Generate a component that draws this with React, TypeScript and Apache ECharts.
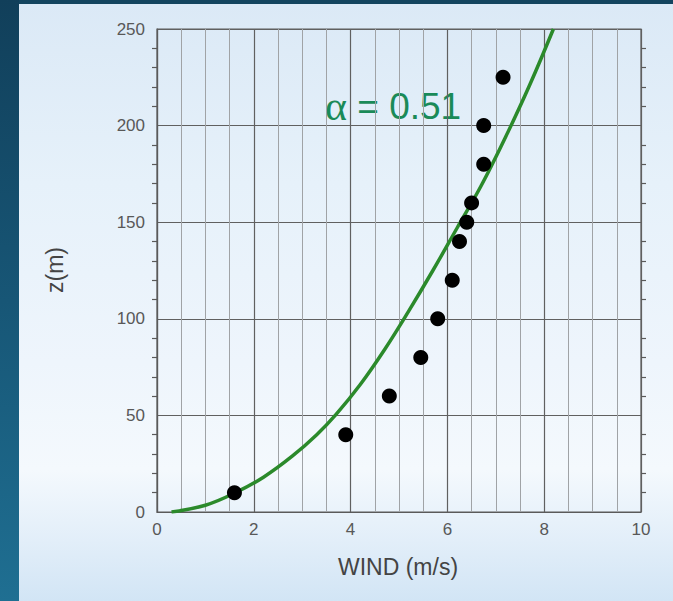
import React, { useEffect, useRef } from "react";
import * as echarts from "echarts";

// Observed wind profile (dots)
const windObs = [1.6, 3.9, 4.8, 5.45, 5.8, 6.1, 6.25, 6.4, 6.5, 6.75, 6.75, 7.15];
const heightObs = [10, 40, 60, 80, 100, 120, 140, 150, 160, 180, 200, 225];

// Fitted power-law curve (alpha = 0.51)
const windFit = [0.3, 1.0, 1.62, 2.2, 2.8, 3.3, 3.7, 4.2, 4.7, 5.2, 5.7, 6.2, 6.7, 7.2, 7.7, 8.19];
const heightFit = [0, 3.5, 10, 18, 29, 40, 50.5, 66, 84, 104, 125, 147, 169, 194, 221, 250];

const xTicks = { min: 0, max: 10, interval: 2 };
const yTicks = { min: 0, max: 250, interval: 50 };

const xName = "WIND (m/s)";
const yName = "z(m)";
const fitLabel = " = 0.51";

export default function App() {
  const ref = useRef<HTMLDivElement>(null);

  useEffect(() => {
    if (!ref.current) return;
    const chart = echarts.init(ref.current, null, { renderer: "svg" });
    const labelFont = "'Liberation Sans', Arial, Helvetica, sans-serif";
    const option: any = {
      animation: false,
      backgroundColor: "transparent",
      grid: {
        left: 157,
        top: 29,
        width: 484,
        height: 483,
        show: true,
        borderColor: "#5a5a5a",
        borderWidth: 1.2,
        backgroundColor: "transparent",
      },
      xAxis: [
        {
          type: "value",
          min: xTicks.min,
          max: xTicks.max,
          interval: xTicks.interval,
          axisLine: { show: true, lineStyle: { color: "#5a5a5a", width: 1.2 } },
          axisTick: { show: false },
          axisLabel: {
            color: "#585858",
            fontSize: 17,
            fontFamily: labelFont,
            margin: 9,
          },
          splitLine: { show: true, lineStyle: { color: "#606060", width: 1.2 } },
          minorTick: { show: false, splitNumber: 4 },
          minorSplitLine: { show: true, lineStyle: { color: "#a0a3a6", width: 1 } },
        },
      ],
      yAxis: [
        {
          type: "value",
          min: yTicks.min,
          max: yTicks.max,
          interval: yTicks.interval,
          axisLine: { show: true, lineStyle: { color: "#5a5a5a", width: 1.2 } },
          axisTick: { show: false },
          minorTick: {
            show: true,
            splitNumber: 5,
            length: 5,
            lineStyle: { color: "#5a5a5a", width: 1.2 },
          },
          axisLabel: {
            color: "#585858",
            fontSize: 17,
            fontFamily: labelFont,
            margin: 12,
          },
          splitLine: { show: true, lineStyle: { color: "#606060", width: 1.2 } },
        },
        {
          type: "value",
          position: "right",
          min: yTicks.min,
          max: yTicks.max,
          interval: yTicks.interval,
          axisLine: { show: false },
          axisTick: { show: false },
          axisLabel: { show: false },
          splitLine: { show: false },
          minorTick: {
            show: true,
            splitNumber: 5,
            length: 5,
            lineStyle: { color: "#5a5a5a", width: 1.2 },
          },
        },
      ],
      series: [
        {
          type: "line",
          data: windFit.map((w, i) => [w, heightFit[i]]),
          showSymbol: false,
          symbol: "none",
          smooth: 0.4,
          lineStyle: { color: "#2b8a2b", width: 3.5 },
          z: 3,
        },
        {
          type: "scatter",
          data: windObs.map((w, i) => [w, heightObs[i]]),
          symbol: "circle",
          symbolSize: 15,
          itemStyle: { color: "#000", opacity: 1 },
          z: 4,
        },
      ],
      graphic: [
        {
          type: "text",
          x: 398,
          y: 567,
          style: {
            text: xName,
            fill: "#444",
            font: `23px ${labelFont}`,
            textAlign: "center",
            textVerticalAlign: "middle",
          },
        },
        {
          type: "text",
          x: 55,
          y: 270,
          rotation: Math.PI / 2,
          style: {
            text: yName,
            fill: "#444",
            font: `23px ${labelFont}`,
            textAlign: "center",
            textVerticalAlign: "middle",
          },
        },
        {
          type: "text",
          x: 325,
          y: 106,
          style: {
            text: "{a|α}{b|" + fitLabel + "}",
            textAlign: "left",
            textVerticalAlign: "middle",
            rich: {
              a: {
                fill: "#1a8a58",
                font: "42px 'Liberation Serif', 'DejaVu Serif', serif",
              },
              b: {
                fill: "#1a8a58",
                font: `37px ${labelFont}`,
              },
            },
          },
        },
      ],
    };
    chart.setOption(option);
    return () => chart.dispose();
  }, []);

  return (
    <div
      style={{
        position: "fixed",
        left: 0,
        top: 0,
        width: 673,
        height: 601,
        overflow: "hidden",
        background: "#13445f",
      }}
    >
      <div
        style={{
          position: "absolute",
          left: 0,
          top: 0,
          width: 19,
          height: 601,
          background: "linear-gradient(180deg, #113f5a 0%, #175676 50%, #1f6f92 100%)",
        }}
      />
      <div
        style={{
          position: "absolute",
          left: 19,
          top: 4,
          right: 0,
          bottom: 0,
          background:
            "linear-gradient(180deg, #dbe9f6 0%, #e6f1fa 30%, #eef5fc 60%, #f4f9fd 78%, #e2eef9 90%, #d2e5f5 100%)",
        }}
      />
      <div
        ref={ref}
        style={{ position: "absolute", left: 0, top: 0, width: 673, height: 601 }}
      />
    </div>
  );
}
